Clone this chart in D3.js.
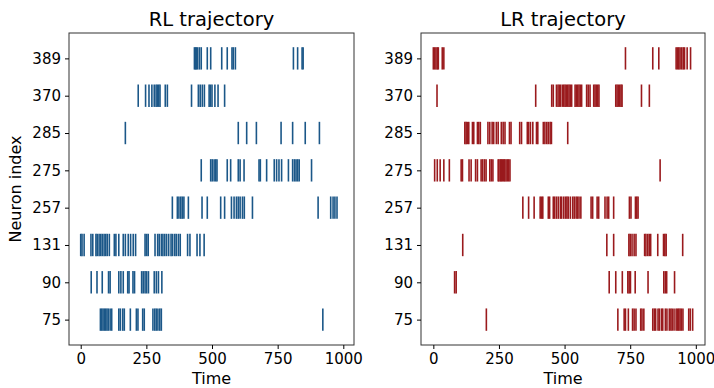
<!DOCTYPE html>
<html>
<head>
<meta charset="utf-8">
<script src="https://cdn.jsdelivr.net/npm/d3@7"></script>
<style>
  body { margin: 0; background: #fff; }
  svg text { font-family: "DejaVu Sans", sans-serif; fill: #000; }
</style>
</head>
<body>
<div id="chart"></div>
<script>
// neuron labels, bottom row first
const neurons = ['75', '90', '131', '257', '275', '285', '370', '389'];
const timeTicks = [0, 250, 500, 750, 1000];

// spike times per neuron (same order as neurons)
const rlSpikes = [
  [75, 80, 85, 90, 95, 100, 105, 112, 118, 145, 151, 160, 166, 189, 212, 218, 236, 242, 275, 282, 288, 294, 301, 307, 922],
  [40, 62, 82, 106, 112, 145, 153, 162, 179, 184, 199, 205, 232, 238, 245, 251, 258, 280, 288, 296, 309],
  [0, 5, 13, 39, 46, 58, 63, 70, 76, 82, 89, 95, 101, 109, 128, 134, 145, 162, 170, 181, 190, 200, 209, 245, 251, 257, 283, 293, 299, 307, 313, 320, 327, 335, 344, 350, 358, 364, 372, 379, 407, 416, 443, 454, 470],
  [349, 368, 374, 381, 387, 393, 410, 462, 482, 533, 548, 574, 584, 593, 600, 607, 616, 623, 654, 904, 952, 961, 968, 976],
  [459, 495, 501, 508, 514, 519, 558, 571, 600, 607, 622, 679, 684, 708, 737, 746, 755, 765, 791, 807, 814, 820, 826, 832, 879],
  [170, 600, 632, 669, 763, 807, 855, 909],
  [219, 247, 260, 271, 280, 287, 292, 297, 302, 322, 330, 422, 448, 455, 463, 471, 489, 494, 500, 511, 523, 548],
  [433, 437, 440, 445, 452, 459, 482, 495, 537, 558, 576, 581, 589, 810, 826, 843, 847]
];

const lrSpikes = [
  [202, 703, 727, 732, 743, 759, 765, 772, 790, 795, 802, 836, 842, 847, 856, 861, 869, 874, 884, 890, 899, 905, 910, 917, 925, 930, 935, 940, 945, 951, 973, 979, 988],
  [81, 87, 670, 695, 720, 741, 746, 751, 769, 818, 878, 884, 889, 919],
  [112, 661, 687, 745, 750, 757, 765, 772, 805, 810, 817, 823, 828, 855, 877, 882, 887, 950],
  [341, 363, 384, 407, 412, 417, 438, 443, 457, 462, 469, 476, 484, 489, 497, 504, 509, 514, 522, 531, 537, 544, 549, 555, 562, 601, 607, 624, 630, 654, 662, 668, 687, 747, 753, 770, 775, 780],
  [5, 15, 26, 40, 61, 106, 111, 136, 144, 161, 168, 182, 188, 195, 201, 215, 221, 227, 247, 250, 255, 259, 263, 268, 272, 277, 282, 287, 292, 864],
  [120, 125, 130, 135, 149, 154, 168, 173, 179, 208, 215, 224, 230, 240, 247, 259, 266, 273, 290, 296, 329, 336, 358, 363, 370, 379, 393, 398, 419, 425, 432, 438, 445, 450, 512],
  [14, 390, 451, 457, 469, 475, 480, 485, 492, 497, 502, 507, 512, 517, 522, 527, 540, 545, 550, 555, 560, 565, 584, 590, 597, 611, 616, 621, 626, 631, 695, 700, 705, 710, 715, 719, 793, 823],
  [0, 5, 10, 15, 19, 34, 40, 732, 836, 859, 925, 930, 935, 940, 946, 952, 957, 967, 980]
];

const width = 714, height = 388;
const plotTop = 33, plotBottom = 345;

const svg = d3.select('#chart').append('svg')
  .attr('width', width)
  .attr('height', height);

function drawPanel(left, right, title, spikes, color, xDomain, showYLabel) {
  const x = d3.scaleLinear().domain(xDomain).range([left, right]);
  // rows at 0..7, lines 0.6 tall, 5% padding
  const y = d3.scaleLinear().domain([-0.68, 7.68]).range([plotBottom, plotTop]);
  const lineHalf = (y(0) - y(0.6)) / 2;

  const g = svg.append('g');

  // spikes
  spikes.forEach(function (row, i) {
    g.append('g')
      .selectAll('line')
      .data(row)
      .enter().append('line')
      .attr('x1', d => x(d))
      .attr('x2', d => x(d))
      .attr('y1', y(i) - lineHalf)
      .attr('y2', y(i) + lineHalf)
      .attr('stroke', color)
      .attr('stroke-width', 1.6);
  });

  // frame
  g.append('rect')
    .attr('x', left)
    .attr('y', plotTop)
    .attr('width', right - left)
    .attr('height', plotBottom - plotTop)
    .attr('fill', 'none')
    .attr('stroke', '#333')
    .attr('stroke-width', 1);

  const xAxis = g.append('g')
    .attr('transform', `translate(0,${plotBottom})`)
    .call(d3.axisBottom(x).tickValues(timeTicks).tickFormat(d3.format('d'))
      .tickSize(4).tickPadding(4));
  xAxis.select('.domain').remove();
  xAxis.selectAll('text').attr('font-size', 15).attr('font-family', '"DejaVu Sans", sans-serif');

  const yAxis = g.append('g')
    .attr('transform', `translate(${left},0)`)
    .call(d3.axisLeft(y).tickValues(d3.range(neurons.length))
      .tickFormat(i => neurons[i]).tickSize(4).tickPadding(4));
  yAxis.select('.domain').remove();
  yAxis.selectAll('text').attr('font-size', 15).attr('font-family', '"DejaVu Sans", sans-serif');

  g.append('text')
    .attr('x', (left + right) / 2)
    .attr('y', 26)
    .attr('text-anchor', 'middle')
    .attr('font-size', 19.5)
    .text(title);

  g.append('text')
    .attr('x', (left + right) / 2)
    .attr('y', 384)
    .attr('text-anchor', 'middle')
    .attr('font-size', 16)
    .text('Time');

  if (showYLabel) {
    g.append('text')
      .attr('transform', `translate(21,${(plotTop + plotBottom) / 2}) rotate(-90)`)
      .attr('text-anchor', 'middle')
      .attr('font-size', 16)
      .text('Neuron index');
  }
}

drawPanel(69, 354, 'RL trajectory', rlSpikes, '#1b5788', [-44.6, 1040.7], true);
drawPanel(421, 705, 'LR trajectory', lrSpikes, '#9a1a1d', [-47, 1035], false);
</script>
</body>
</html>
